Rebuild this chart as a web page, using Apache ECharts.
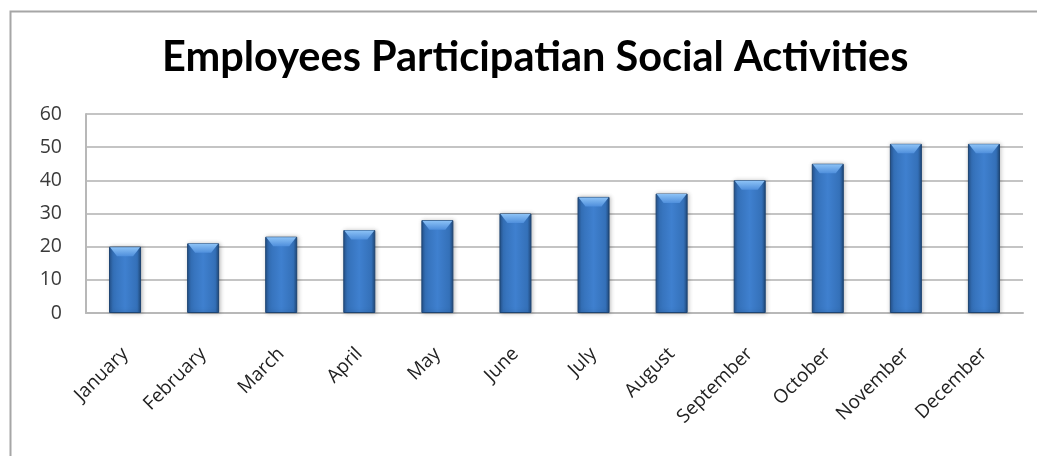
<!DOCTYPE html>
<html>
<head>
<meta charset="utf-8">
<script src="https://cdn.jsdelivr.net/npm/echarts@6/dist/echarts.min.js"></script>
<style>
html,body{margin:0;padding:0;background:#fff;}
#chart{width:1037px;height:456px;}
</style>
</head>
<body>
<div id="chart"></div>
<script>
const titleText = 'Employees Participatian Social Activities';
const months = ['January','February','March','April','May','June','July','August','September','October','November','December'];
const participants = [20,21,23,25,28,30,35,36,40,45,51,51];
const yTicks = {min:0, max:60, interval:10};

const chart = echarts.init(document.getElementById('chart'));
const BAR_RATIO = 0.41;

const bodyGradient = new echarts.graphic.LinearGradient(0,0,1,0,[
  {offset:0, color:'#24528c'},
  {offset:0.12, color:'#3470b8'},
  {offset:0.5, color:'#3f80cf'},
  {offset:0.88, color:'#3470b8'},
  {offset:1, color:'#1f4879'}
]);

chart.setOption({
  animation:false,
  backgroundColor:'#ffffff',
  graphic:[{
    type:'rect', left:8, top:9, silent:true,
    shape:{width:1100, height:500},
    style:{fill:'none', stroke:'#a6a6a6', lineWidth:2}
  }],
  title:{
    text:titleText, left:157, top:32,
    textStyle:{fontFamily:'Lato', fontWeight:'bold', fontSize:41.5, color:'#000'}
  },
  grid:{left:86, right:14, top:114, bottom:143},
  xAxis:{
    type:'category', data:months,
    axisLine:{lineStyle:{color:'#b8b8b8', width:2}},
    axisTick:{show:false},
    axisLabel:{rotate:45, margin:38, interval:0, fontFamily:'Open Sans', fontSize:19, color:'#222'}
  },
  yAxis:{
    type:'value', min:yTicks.min, max:yTicks.max, interval:yTicks.interval,
    axisLine:{show:true, lineStyle:{color:'#b8b8b8', width:2}},
    axisTick:{show:false},
    splitLine:{lineStyle:{color:'#c4c4c4', width:2}},
    axisLabel:{margin:24, fontFamily:'Open Sans', fontSize:19.5, color:'#3a3a3a'}
  },
  series:[{
    type:'bar', data:participants, barWidth:(BAR_RATIO*100)+'%',
    itemStyle:{color:bodyGradient, borderColor:'#1d4472', borderWidth:1,
      shadowColor:'rgba(0,0,0,0.25)', shadowBlur:4, shadowOffsetX:1, shadowOffsetY:0}
  },{
    type:'custom', data:participants, z:5,
    renderItem:function(params, api){
      const v = api.value(1);
      const top = api.coord([api.value(0), v]);
      const w = api.size([1,0])[0]*BAR_RATIO;
      const x0 = top[0]-w/2, x1 = top[0]+w/2, y0 = top[1]+0.5;
      const h = 9, inset = 8;
      return {type:'polygon', shape:{points:[[x0+1,y0],[x1-1,y0],[x1-inset,y0+h],[x0+inset,y0+h]]},
        style:{fill:new echarts.graphic.LinearGradient(0,0,0,1,[{offset:0,color:'#8cc2f6'},{offset:1,color:'#4f8fdc'}])}};
    },
    encode:{x:0, y:1}
  }]
});
</script>
</body>
</html>
